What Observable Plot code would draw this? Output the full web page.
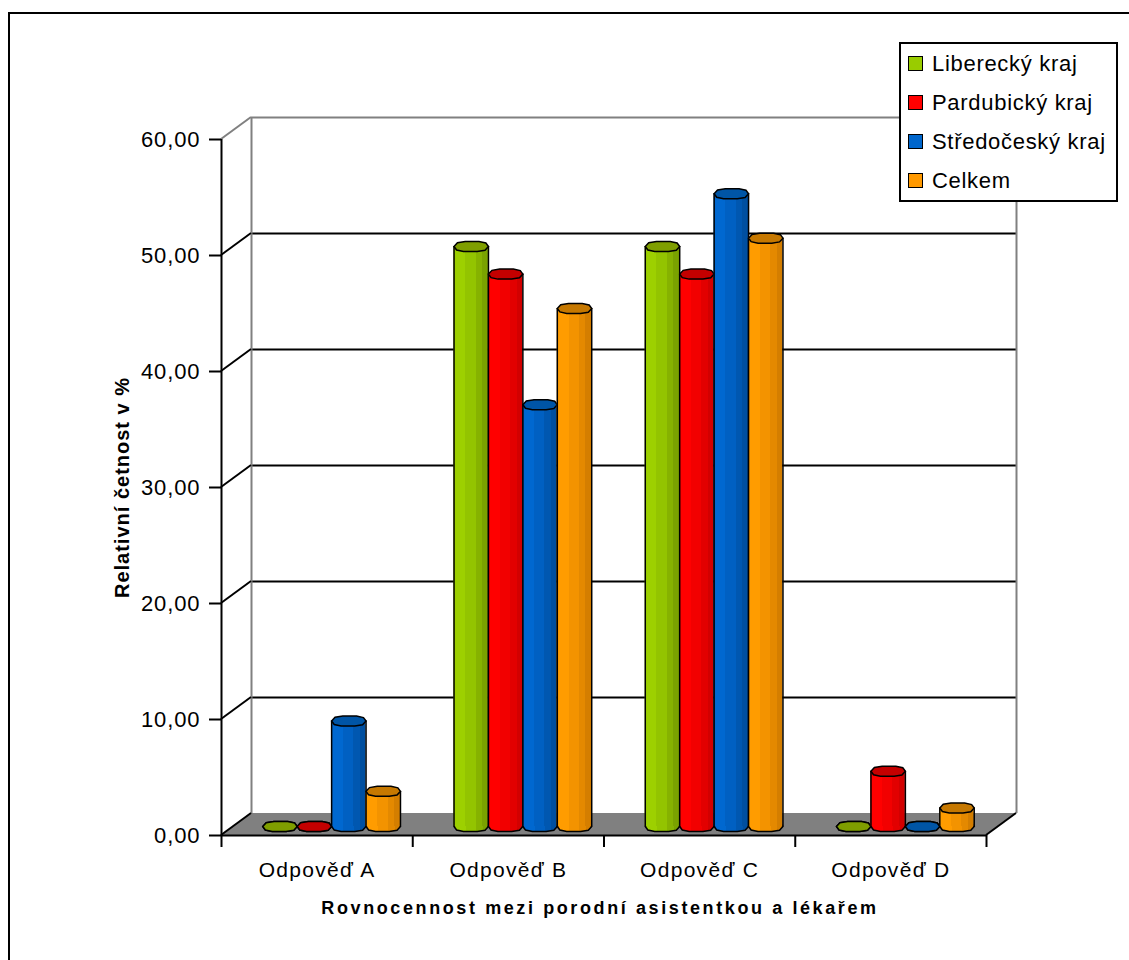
<!DOCTYPE html>
<html>
<head>
<meta charset="utf-8">
<script src="https://cdn.jsdelivr.net/npm/d3@7"></script>
<script src="https://cdn.jsdelivr.net/npm/@observablehq/plot@0.6"></script>
<style>
  body { margin: 0; background: #fff; font-family: "Liberation Sans", Arial, sans-serif; }
  #chart { position: relative; width: 1129px; height: 960px; overflow: hidden; background: #fff; }
  #chart svg { position: absolute; left: 0; top: 0; background: transparent; }
  #chart svg text { letter-spacing: 0.9px; }
  .outline { position: absolute; left: 8px; top: 12px; width: 1300px; height: 1100px;
             border-left: 2px solid #000; border-top: 2px solid #000; pointer-events: none; }
  .legend { position: absolute; left: 899px; top: 42px; width: 219px; height: 160px; box-sizing: border-box;
            border: 2px solid #000; background: #fff; }
  .legend .row { display: flex; align-items: center; height: 39px; padding-left: 7px;
                 font-size: 22px; letter-spacing: 0.7px; color: #000; white-space: nowrap; }
  .legend .sw { width: 13px; height: 13px; border: 1px solid #000; margin-right: 9px; flex: none; }
</style>
</head>
<body>
<div id="chart"></div>
<script>
// Relative frequencies (%) per answer and region
const categories = ["Odpověď A", "Odpověď B", "Odpověď C", "Odpověď D"];
const seriesNames = ["Liberecký kraj", "Pardubický kraj", "Středočeský kraj", "Celkem"];
const liberecky   = [0, 50.00, 50.00, 0];
const pardubicky  = [0, 47.62, 47.62, 4.76];
const stredocesky = [9.09, 36.36, 54.55, 0];
const celkem      = [3.03, 44.66, 50.72, 1.59];
const yTicks = [0, 10, 20, 30, 40, 50, 60];
const xTitle = "Rovnocennost mezi porodní asistentkou a lékařem";
const yTitle = "Relativní četnost v %";

// face shades of each prism (light → dark) and its top cap colour
const palette = [
  {swatch: "#99cc00", faces: ["#9dd000", "#93c400", "#86b200", "#7aa200"], cap: "#7f9e00"},
  {swatch: "#ff0000", faces: ["#ff0000", "#f20000", "#e20000", "#d20000"], cap: "#c40000"},
  {swatch: "#0066cc", faces: ["#0068d0", "#0060c2", "#0057b0", "#004fa0"], cap: "#0055a6"},
  {swatch: "#ff9900", faces: ["#ff9c00", "#f39300", "#e48900", "#d47e00"], cap: "#c67800"}
];
const seriesValues = [liberecky, pardubicky, stredocesky, celkem];

// geometry of the pseudo-3D frame
const W = 1129, H = 960, ML = 221, MR = 143, MT = 139, MB = 125;
const DX = 30, DY = -22;      // depth of the back wall
const BX = 14.5, BY = -9;     // depth at which the columns stand
const GAP = 0.14, BAR = 0.18; // column layout inside one category (in category units)
const unitPx = (W - ML - MR) / categories.length;
const RX = BAR * unitPx / 2, RY = 5;

const rows = [];
seriesValues.forEach((vals, si) => vals.forEach((v, ci) => rows.push({
  series: seriesNames[si], si, category: categories[ci], ci, value: v,
  x1: ci + GAP + si * BAR, x2: ci + GAP + (si + 1) * BAR, xm: ci + GAP + (si + 0.5) * BAR
})));

// rounded octagonal section of a column
const section = {
  draw(context) {
    const pts = [[-1, 0], [-0.8, -0.75], [-0.35, -1], [0.45, -1], [0.85, -0.7], [1, 0],
                 [0.8, 0.75], [0.35, 1], [-0.45, 1], [-0.85, 0.7]];
    pts.forEach(([u, v], k) => k ? context.lineTo(u * RX, v * RY) : context.moveTo(u * RX, v * RY));
    context.closePath();
  }
};

function gradients() {
  const defs = d3.create("svg:defs");
  palette.forEach((p, i) => {
    const g = defs.append("linearGradient").attr("id", `face${i}`)
      .attr("x1", 0).attr("x2", 1).attr("y1", 0).attr("y2", 0);
    const cuts = [0, 0.34, 0.64, 0.83, 1];
    p.faces.forEach((c, k) => {
      g.append("stop").attr("offset", cuts[k]).attr("stop-color", c);
      g.append("stop").attr("offset", cuts[k + 1]).attr("stop-color", c);
    });
  });
  return defs.node();
}

function floorAndSideWall(index, scales) {
  const {x, y} = scales;
  const g = d3.create("svg:g");
  const x0 = x(0), x4 = x(categories.length), y0 = y(0);
  g.append("path")
    .attr("d", `M${x0},${y0}L${x4},${y0}L${x4 + DX},${y0 + DY}L${x0 + DX},${y0 + DY}Z`)
    .attr("fill", "#808080");
  for (const v of yTicks) {
    g.append("line")
      .attr("x1", x0).attr("y1", y(v)).attr("x2", x0 + DX).attr("y2", y(v) + DY)
      .attr("stroke", v === yTicks[yTicks.length - 1] ? "#808080" : "#000").attr("stroke-width", 2);
  }
  g.append("line")
    .attr("x1", x4).attr("y1", y0).attr("x2", x4 + DX).attr("y2", y0 + DY)
    .attr("stroke", "#000").attr("stroke-width", 2);
  return g.node();
}

const columnMarks = palette.flatMap((p, si) => {
  const data = rows.filter(d => d.si === si);
  const face = `url(#face${si})`;
  return [
    Plot.dot(data, {x: "xm", y: 0, symbol: section, fill: face, stroke: "#000", strokeWidth: 1.5, dx: BX, dy: BY}),
    Plot.rect(data, {x1: "x1", x2: "x2", y1: 0, y2: "value", fill: face, dx: BX, dy: BY}),
    Plot.ruleX(data, {x: "x1", y1: 0, y2: "value", stroke: "#000", strokeWidth: 1.5, dx: BX, dy: BY}),
    Plot.ruleX(data, {x: "x2", y1: 0, y2: "value", stroke: "#000", strokeWidth: 1.5, dx: BX, dy: BY}),
    Plot.dot(data, {x: "xm", y: "value", symbol: section, fill: p.cap, stroke: "#000", strokeWidth: 1.5, dx: BX, dy: BY})
  ];
});

const fmt = d => d.toFixed(2).replace(".", ",");
const last = yTicks[yTicks.length - 1];

const chart = Plot.plot({
  width: W, height: H,
  marginLeft: ML, marginRight: MR, marginTop: MT, marginBottom: MB,
  style: {fontFamily: "'Liberation Sans', Arial, sans-serif", background: "transparent", color: "#000"},
  x: {domain: [0, categories.length], axis: null},
  y: {domain: [0, last], axis: null},
  marks: [
    gradients,
    // back wall
    Plot.ruleY(yTicks.slice(1, -1), {x1: 0, x2: categories.length, dx: DX, dy: DY, stroke: "#000", strokeWidth: 2}),
    Plot.ruleY([last], {x1: 0, x2: categories.length, dx: DX, dy: DY, stroke: "#808080", strokeWidth: 2}),
    Plot.ruleX([0, categories.length], {y1: 0, y2: last, dx: DX, dy: DY, stroke: "#808080", strokeWidth: 2}),
    floorAndSideWall,
    // front axes
    Plot.ruleY([0], {x1: 0, x2: categories.length, stroke: "#000", strokeWidth: 2}),
    Plot.ruleX([0], {y1: 0, y2: last, stroke: "#000", strokeWidth: 2}),
    Plot.axisY(yTicks, {tickSize: 12, tickPadding: 9, tickFormat: fmt, fontSize: 22, strokeWidth: 2, label: null}),
    Plot.axisX(d3.range(categories.length + 1), {tickSize: 12, tickFormat: () => "", strokeWidth: 2, label: null}),
    ...columnMarks,
    Plot.text(categories, {x: (d, i) => i + 0.5, y: 0, dy: 41, lineAnchor: "bottom", fontSize: 21}),
    Plot.text([xTitle], {frameAnchor: "bottom", dx: -4, dy: 78, lineAnchor: "bottom", fontSize: 18, fontWeight: "bold"}),
    Plot.text([yTitle], {frameAnchor: "left", textAnchor: "middle", rotate: -90, dx: -93, lineAnchor: "bottom", fontSize: 20, fontWeight: "bold"})
  ]
});

// wider tracking for the axis titles and category labels
chart.querySelectorAll("text").forEach(t => {
  if (t.textContent === xTitle) t.style.letterSpacing = "2.6px";
  if (t.textContent === yTitle) t.style.letterSpacing = "1px";
  if (categories.includes(t.textContent)) t.style.letterSpacing = "1.3px";
});

const root = document.getElementById("chart");
root.appendChild(chart);

const outline = document.createElement("div");
outline.className = "outline";
root.appendChild(outline);

const legend = document.createElement("div");
legend.className = "legend";
seriesNames.forEach((name, i) => {
  const row = document.createElement("div");
  row.className = "row";
  const sw = document.createElement("span");
  sw.className = "sw";
  sw.style.background = palette[i].swatch;
  row.appendChild(sw);
  row.appendChild(document.createTextNode(name));
  legend.appendChild(row);
});
root.appendChild(legend);
</script>
</body>
</html>
